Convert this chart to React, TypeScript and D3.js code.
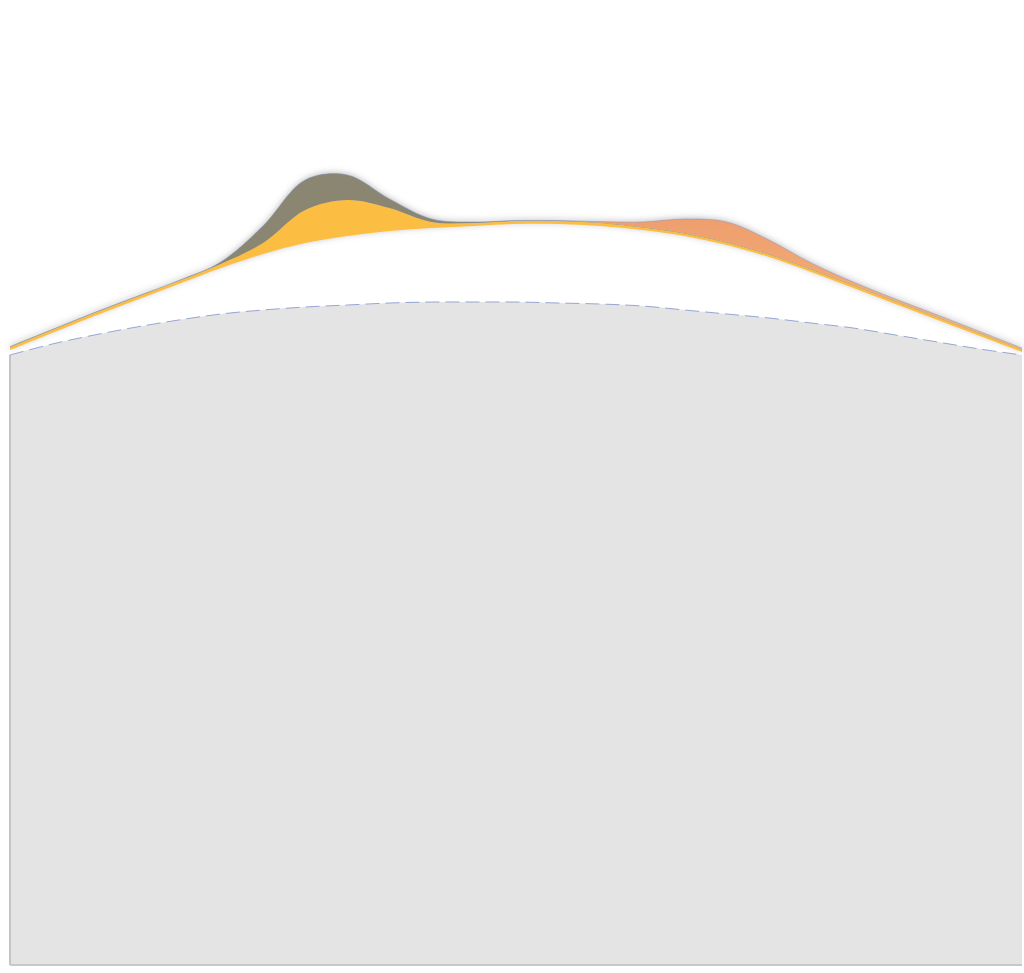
import { useRef, useEffect } from "react"
import * as d3 from "d3"

// 25 evenly spaced samples across the chart
const steps = d3.range(25)

const baseGray = [610, 621, 630, 638, 645, 651, 655, 658, 660, 662, 663, 663, 663, 662, 661, 659, 655, 651, 647, 642, 637, 630, 623, 616, 610]
const whiteBand = [5, 11, 19, 27, 36, 46, 56, 64, 69, 72, 74, 76, 78, 79, 78, 76, 74, 69, 61, 51, 40, 31, 22, 13, 3]
const yellowBand = [3, 3, 3, 3, 3, 4, 11, 33, 36, 23, 6, 3, 3, 3, 3, 2.5, 2.5, 2.5, 2.5, 2.5, 2.5, 2.5, 2.5, 2.5, 2.5]
const oliveBand = [0.5, 0.5, 0.5, 0.5, 0.5, 2, 17, 30, 25, 9, 3, 1, 0.5, 0.5, 0.5, 0.5, 0.5, 0.5, 0.5, 0.5, 0.5, 0.5, 0.5, 0.5, 0.5]
const salmonBand = [0, 0, 0, 0, 0, 0, 0, 0, 0, 0, 0, 0, 0, 0, 1, 5, 14, 20, 14, 6, 3, 2, 2, 1.5, 1]

const keys = ["gray", "white", "yellow", "olive", "salmon"]
const colors: Record<string, string> = {
  gray: "#e4e4e4",
  white: "#ffffff",
  yellow: "#fbbd42",
  olive: "#8b8672",
  salmon: "#f0a472",
}

export default function App() {
  const svgRef = useRef<SVGSVGElement | null>(null)

  useEffect(() => {
    if (!svgRef.current) return
    const svg = d3.select(svgRef.current)
    svg.selectAll("*").remove()

    const rows = steps.map((i) => ({
      gray: baseGray[i],
      white: whiteBand[i],
      yellow: yellowBand[i],
      olive: oliveBand[i],
      salmon: salmonBand[i],
    }))

    const series = d3.stack<any>().keys(keys)(rows)

    const x = d3.scaleLinear().domain([0, steps.length - 1]).range([10, 1022])
    const y = d3.scaleLinear().domain([0, 815]).range([965, 150])
    const curve = d3.curveCatmullRom.alpha(0.5)

    const defs = svg.append("defs")
    const shadow = defs.append("filter").attr("id", "soft").attr("x", "-5%").attr("y", "-20%").attr("width", "110%").attr("height", "140%")
    shadow.append("feDropShadow").attr("dx", 0).attr("dy", -1).attr("stdDeviation", 3).attr("flood-color", "#6b6b6b").attr("flood-opacity", 0.45)

    const grad = defs.append("linearGradient").attr("id", "salmonGrad").attr("x1", 0).attr("x2", 0).attr("y1", 0).attr("y2", 1)
    grad.append("stop").attr("offset", "0%").attr("stop-color", "#ec9868")
    grad.append("stop").attr("offset", "100%").attr("stop-color", "#f4b37c")

    const area = d3
      .area<any>()
      .x((_, i) => x(i))
      .y0((d) => y(d[0]))
      .y1((d) => y(d[1]))
      .curve(curve)

    const topLine = d3
      .line<any>()
      .x((_, i) => x(i))
      .y((d) => y(d[1]))
      .curve(curve)

    // base gray block with edge lines
    svg.append("path").datum(series[0]).attr("d", area).attr("fill", colors.gray)
    svg.append("line").attr("x1", 10).attr("x2", 10).attr("y1", y(baseGray[0])).attr("y2", 965).attr("stroke", "#c4c4c4").attr("stroke-width", 2)
    svg.append("line").attr("x1", 10).attr("x2", 1022).attr("y1", 965).attr("y2", 965).attr("stroke", "#c8c8c8").attr("stroke-width", 2)
    svg
      .append("path")
      .datum(series[0])
      .attr("d", topLine)
      .attr("fill", "none")
      .attr("stroke", "#6f86c4")
      .attr("stroke-width", 1)
      .attr("stroke-dasharray", "14,6")
      .attr("opacity", 0.7)

    const upper = svg.append("g").attr("filter", "url(#soft)")
    upper
      .selectAll("path.layer")
      .data(series.slice(2))
      .join("path")
      .attr("class", "layer")
      .attr("d", area)
      .attr("fill", (d) => (d.key === "salmon" ? "url(#salmonGrad)" : colors[d.key]))

    // thin bluish edge on top of the stack
    svg
      .append("path")
      .datum(series[series.length - 1])
      .attr("d", topLine)
      .attr("fill", "none")
      .attr("stroke", "#7d93c8")
      .attr("stroke-width", 0.8)
      .attr("opacity", 0.6)
  }, [])

  return (
    <svg
      ref={svgRef}
      width={1024}
      height={973}
      style={{ position: "absolute", left: 0, top: 0, background: "#ffffff" }}
    ></svg>
  )
}
